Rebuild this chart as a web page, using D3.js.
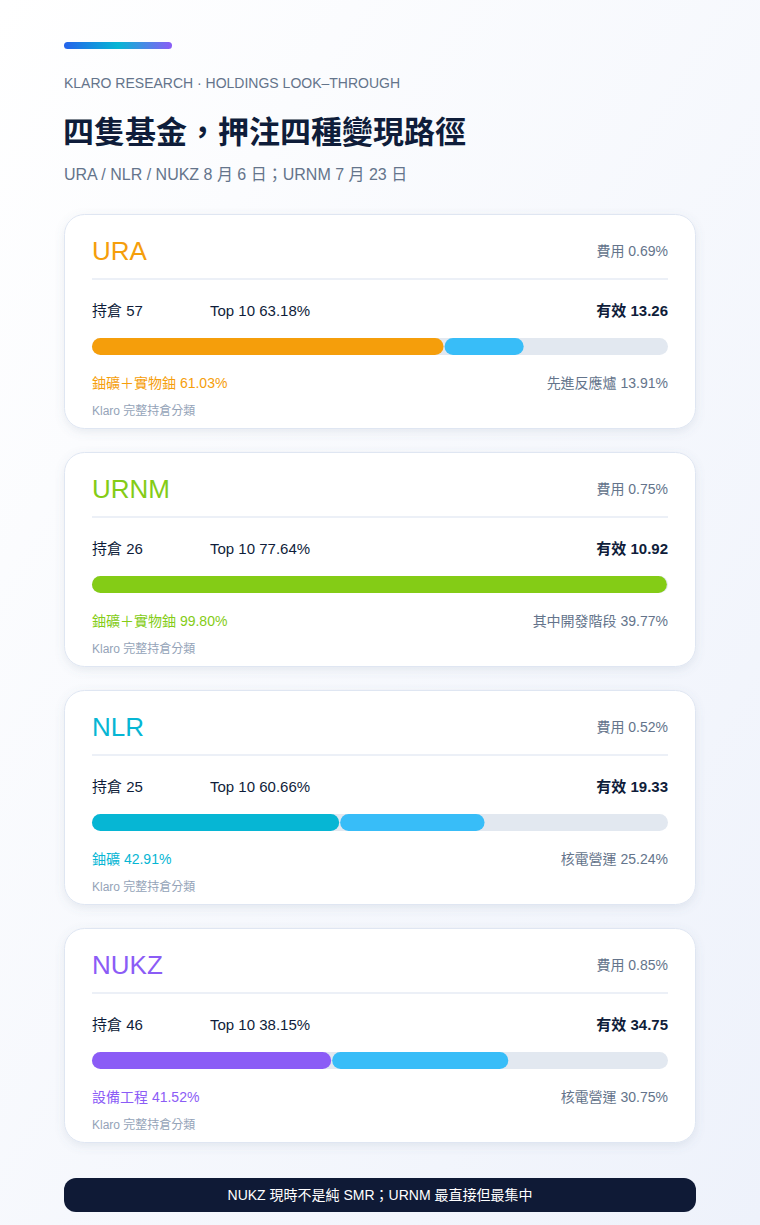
<!DOCTYPE html>
<html><head><meta charset="utf-8">
<script src="https://cdn.jsdelivr.net/npm/d3@7"></script>
<style>body{margin:0;background:#f5f7fc;}svg{display:block;font-family:"Liberation Sans","Noto Sans CJK TC",sans-serif;}</style>
</head><body><svg id="c" width="760" height="1225"></svg>
<script>
const tickers=["URA","URNM","NLR","NUKZ"];
const colors=["#f59e0b","#84cc16","#06b6d4","#8b5cf6"];
const fees=["0.69%","0.75%","0.52%","0.85%"];
const holdings=[57,26,25,46];
const top10=["63.18%","77.64%","60.66%","38.15%"];
const effective=["13.26","10.92","19.33","34.75"];
const primaryLabel=["鈾礦＋實物鈾","鈾礦＋實物鈾","鈾礦","設備工程"];
const primaryVal=[61.03,99.80,42.91,41.52];
const secondaryLabel=["先進反應爐","其中開發階段","核電營運","核電營運"];
const secondaryVal=[13.91,39.77,25.24,30.75];
const secondaryStacked=[true,false,true,true];

const svg=d3.select("#c");
const defs=svg.append("defs");
const bg=defs.append("linearGradient").attr("id","bg").attr("x1",0).attr("y1",0).attr("x2",1).attr("y2",1);
bg.append("stop").attr("offset",0).attr("stop-color","#ffffff");
bg.append("stop").attr("offset",1).attr("stop-color","#eef2fb");
const ag=defs.append("linearGradient").attr("id","ag");
ag.append("stop").attr("offset",0).attr("stop-color","#2563eb");
ag.append("stop").attr("offset",0.5).attr("stop-color","#06b6d4");
ag.append("stop").attr("offset",1).attr("stop-color","#8b5cf6");
const f=defs.append("filter").attr("id","sh").attr("x","-10%").attr("y","-10%").attr("width","120%").attr("height","130%");
f.append("feDropShadow").attr("dx",0).attr("dy",3).attr("stdDeviation",5).attr("flood-color","#64748b").attr("flood-opacity",0.13);

svg.append("rect").attr("width",760).attr("height",1225).attr("fill","url(#bg)");
svg.append("rect").attr("x",64).attr("y",42).attr("width",108).attr("height",7).attr("rx",3.5).attr("fill","url(#ag)");
svg.append("text").attr("x",64).attr("y",88).attr("font-size",14).attr("fill","#64748b").text("KLARO RESEARCH · HOLDINGS LOOK–THROUGH");
svg.append("text").attr("x",63).attr("y",143).attr("font-size",31).attr("font-weight",700).attr("fill","#0f1d3a").text("四隻基金，押注四種變現路徑");
svg.append("text").attr("x",64).attr("y",180).attr("font-size",16).attr("fill","#64748b").text("URA / NLR / NUKZ 8 月 6 日；URNM 7 月 23 日");

const x=d3.scaleLinear().domain([0,100]).range([92,668]);
const yCard=d3.scaleLinear().domain([0,3]).range([214,928]);
const h=214;

tickers.forEach((t,i)=>{
  const g=svg.append("g").attr("transform",`translate(0,${yCard(i)})`);
  g.append("rect").attr("x",64.5).attr("y",0.5).attr("width",631).attr("height",h).attr("rx",20).attr("fill","#fff").attr("stroke","#dfe6f2").attr("filter","url(#sh)");
  g.append("text").attr("x",92).attr("y",46).attr("font-size",26).attr("fill",colors[i]).text(t);
  g.append("text").attr("x",668).attr("y",42).attr("text-anchor","end").attr("font-size",14).attr("fill","#64748b").text("費用 "+fees[i]);
  g.append("line").attr("x1",92).attr("x2",668).attr("y1",65).attr("y2",65).attr("stroke","#e6ebf4").attr("stroke-width",1.5);
  g.append("text").attr("x",92).attr("y",102).attr("font-size",15).attr("fill","#0f1d3a").text("持倉 "+holdings[i]);
  g.append("text").attr("x",210).attr("y",102).attr("font-size",15).attr("fill","#0f1d3a").text("Top 10 "+top10[i]);
  g.append("text").attr("x",668).attr("y",102).attr("text-anchor","end").attr("font-size",15).attr("font-weight",700).attr("fill","#0f1d3a").text("有效 "+effective[i]);
  const by=124,bh=17;
  g.append("rect").attr("x",x(0)).attr("y",by).attr("width",x(100)-x(0)).attr("height",bh).attr("rx",bh/2).attr("fill","#e2e8f0");
  g.append("rect").attr("x",x(0)).attr("y",by).attr("width",x(primaryVal[i])-x(0)).attr("height",bh).attr("rx",bh/2).attr("fill",colors[i]);
  if(secondaryStacked[i]){
    g.append("rect").attr("x",x(primaryVal[i])+1).attr("y",by).attr("width",x(primaryVal[i]+secondaryVal[i])-x(primaryVal[i])-1).attr("height",bh).attr("rx",bh/2).attr("fill","#38bdf8");
  }
  g.append("text").attr("x",92).attr("y",174).attr("font-size",14).attr("fill",colors[i]).text(primaryLabel[i]+" "+primaryVal[i].toFixed(2)+"%");
  g.append("text").attr("x",668).attr("y",174).attr("text-anchor","end").attr("font-size",14).attr("fill","#64748b").text(secondaryLabel[i]+" "+secondaryVal[i].toFixed(2)+"%");
  g.append("text").attr("x",92).attr("y",201).attr("font-size",12).attr("fill","#94a3b8").text("Klaro 完整持倉分類");
});

svg.append("rect").attr("x",64).attr("y",1178).attr("width",632).attr("height",34).attr("rx",12).attr("fill","#0f1a36");
svg.append("text").attr("x",380).attr("y",1200).attr("text-anchor","middle").attr("font-size",14).attr("fill","#fff").text("NUKZ 現時不是純 SMR；URNM 最直接但最集中");
</script></body></html>
